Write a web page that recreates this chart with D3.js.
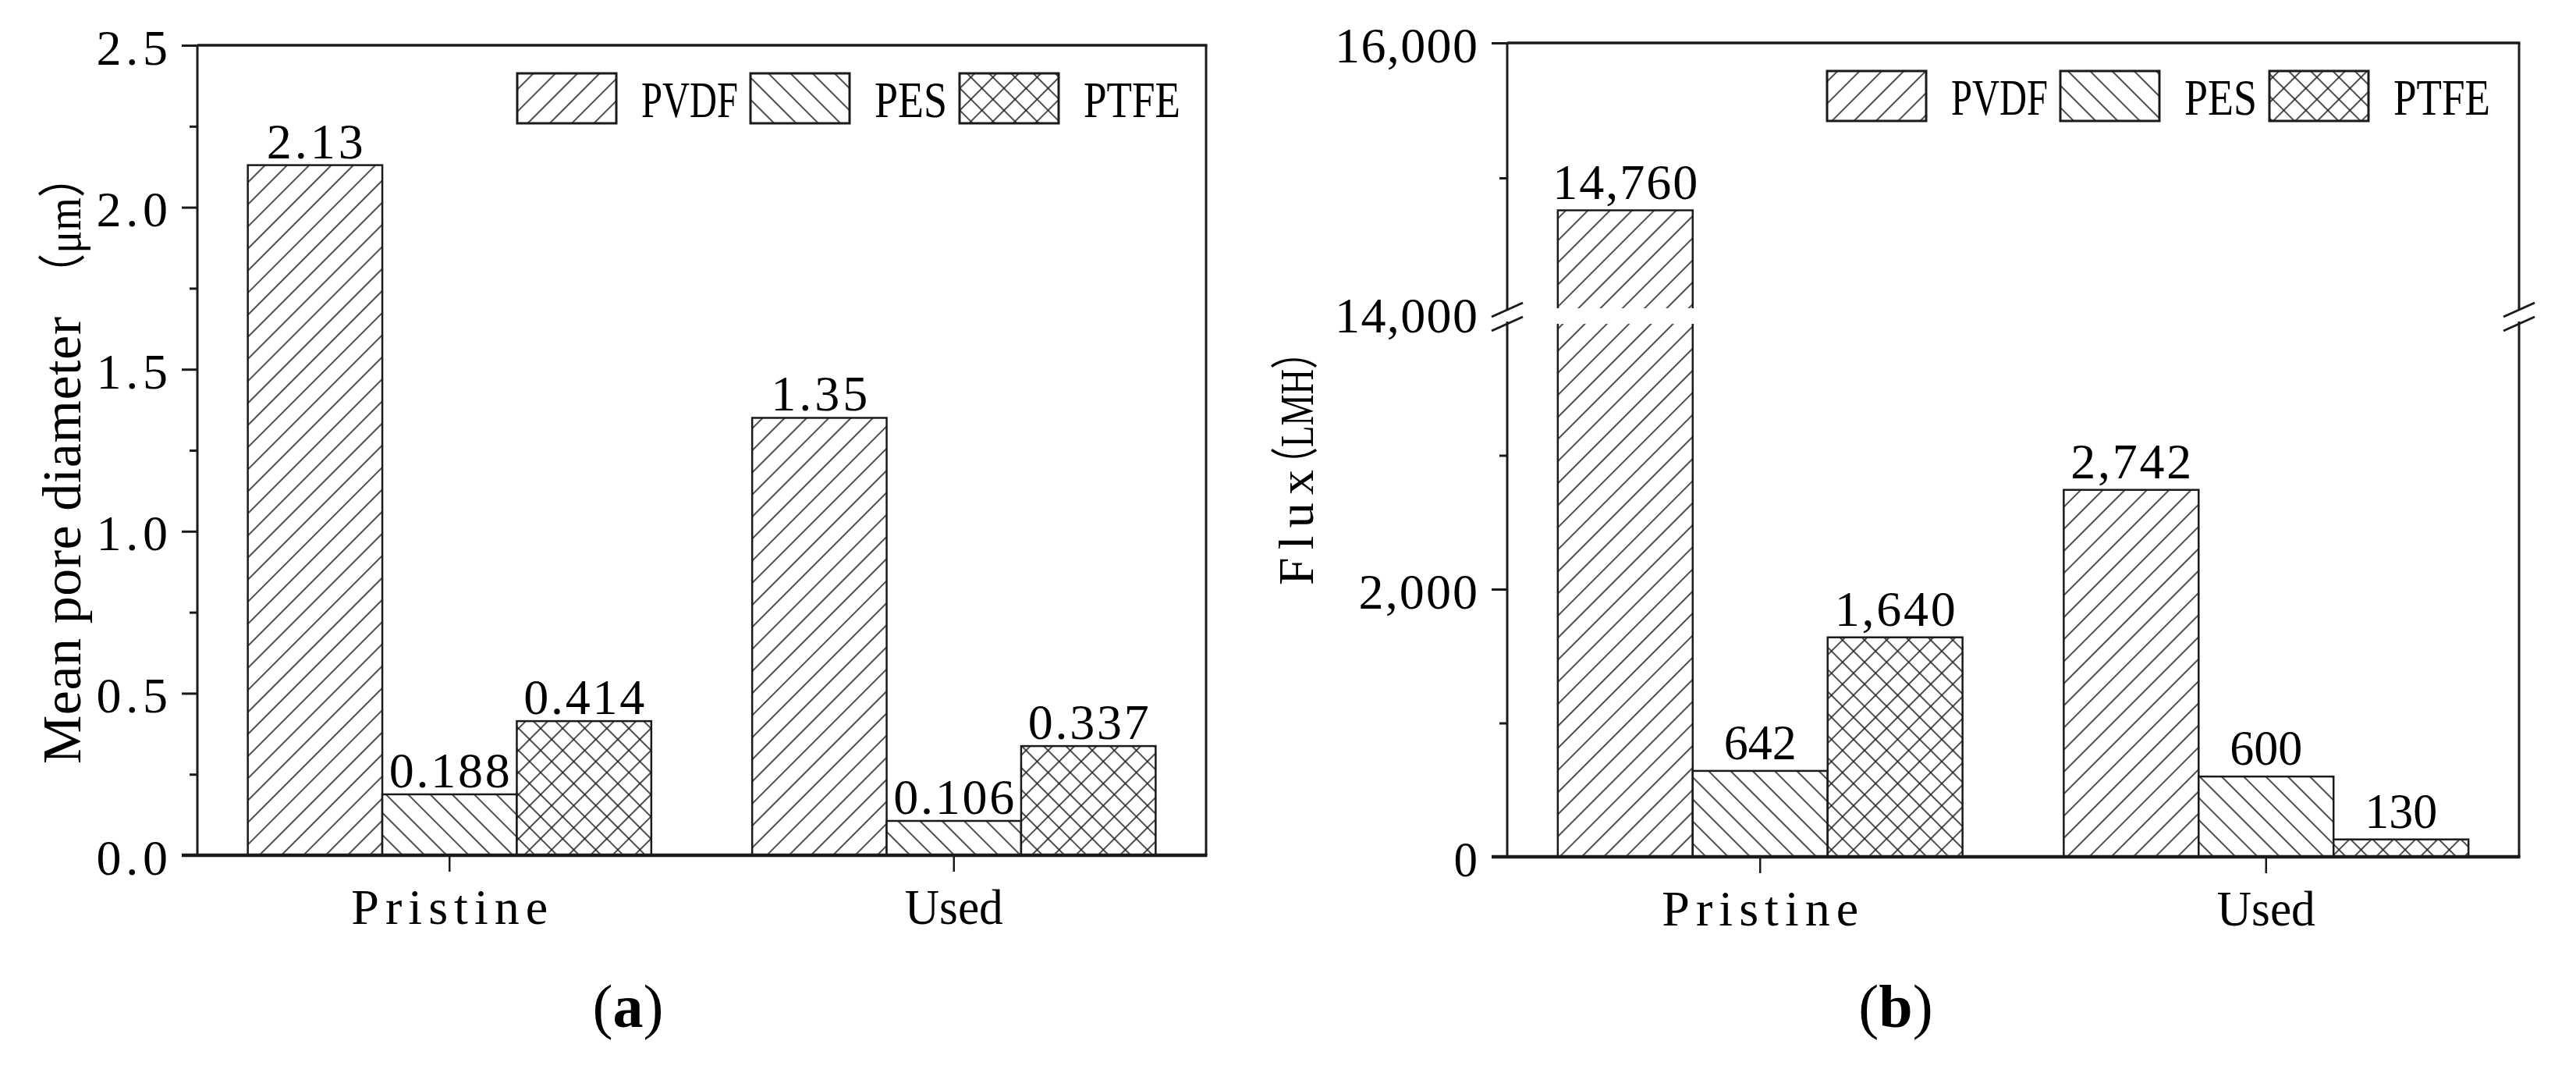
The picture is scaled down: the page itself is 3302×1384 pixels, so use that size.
<!DOCTYPE html>
<html><head><meta charset="utf-8">
<script src="https://cdn.jsdelivr.net/npm/d3@7"></script>
<style>body{margin:0;background:#fff}</style>
</head><body><svg id="c" width="3302" height="1384"></svg>
<script>
// ---------------- data ----------------
const categories = ["Pristine", "Used"];
const seriesNames = ["PVDF", "PES", "PTFE"];
const pvdfPore = [2.13, 1.35];
const pesPore = [0.188, 0.106];
const ptfePore = [0.414, 0.337];
const pvdfFlux = [14760, 2742];
const pesFlux = [642, 600];
const ptfeFlux = [1640, 130];
const poreMajorTicks = [0, 0.5, 1.0, 1.5, 2.0, 2.5];
const poreTickLabels = ["0.0", "0.5", "1.0", "1.5", "2.0", "2.5"];
const poreMinorTicks = [0.25, 0.75, 1.25, 1.75, 2.25];
const fluxLowMajorTicks = [0, 2000];
const fluxLowTickLabels = ["0", "2,000"];
const fluxLowMinorTicks = [1000, 3000];
const fluxHighMajorTicks = [14000, 16000];
const fluxHighTickLabels = ["14,000", "16,000"];
const fluxHighMinorTicks = [15000];
const poreTitleParts = ["Mean pore diameter", "（μm）"];
const fluxTitleParts = ["Flux", "（LMH）"];

// ---------------- setup ----------------
const svg = d3.select("#c");
const FONT = "'Liberation Serif','Noto Sans CJK SC',serif";
const INK = "#1a1a1a";
const defs = svg.append("defs");

function makePattern(id, angle, cross) {
  const p = defs.append("pattern").attr("id", id)
    .attr("patternUnits", "userSpaceOnUse")
    .attr("width", 20).attr("height", 20)
    .attr("patternTransform", `rotate(${angle})`);
  p.append("rect").attr("width", 20).attr("height", 20).attr("fill", "#fff");
  p.append("line").attr("x1", 10).attr("y1", -2).attr("x2", 10).attr("y2", 22)
    .attr("stroke", "#222").attr("stroke-width", 1.6);
  if (cross) p.append("line").attr("x1", -2).attr("y1", 10).attr("x2", 22).attr("y2", 10)
    .attr("stroke", "#222").attr("stroke-width", 1.6);
}
makePattern("pat-PVDF", 45, false);
makePattern("pat-PES", -45, false);
makePattern("pat-PTFE", 45, true);

function fitText(sel, charW, anchor) {
  sel.each(function () {
    const n = this.textContent.length;
    const target = n * charW;
    const nat = this.getComputedTextLength();
    const x0 = +(this.getAttribute("x") || 0);
    d3.select(this).attr("text-anchor", "start")
      .attr("textLength", target)
      .attr("lengthAdjust", nat > target ? "spacingAndGlyphs" : "spacing")
      .attr("x", anchor === "middle" ? x0 - target / 2 : anchor === "end" ? x0 - target : x0);
  });
}
function fitLen(sel, target) {
  sel.each(function () {
    const nat = this.getComputedTextLength();
    d3.select(this).attr("textLength", target)
      .attr("lengthAdjust", nat > target ? "spacingAndGlyphs" : "spacing");
  });
}

function panel(cfg) {
  const { left, right, top, bottom, values, yv, labelFmt, labelGap } = cfg;
  const g = svg.append("g");
  const x = d3.scaleBand().domain(categories).range([left, right]).paddingInner(0.2).paddingOuter(0.1);
  const xs = d3.scaleBand().domain(seriesNames).range([0, x.bandwidth()]);
  const rows = [];
  categories.forEach((c, i) => seriesNames.forEach(s => rows.push({ cat: c, s: s, v: values[s][i] })));

  // bars
  g.selectAll("rect.bar").data(rows).join("rect").attr("class", "bar")
    .attr("x", d => x(d.cat) + xs(d.s)).attr("width", xs.bandwidth())
    .attr("y", d => yv(d.v)).attr("height", d => yv(0) - yv(d.v))
    .attr("fill", d => `url(#pat-${d.s})`).attr("stroke", INK).attr("stroke-width", 2.5);

  if (cfg.afterBars) cfg.afterBars(g, rows, x, xs);

  // value labels
  g.selectAll("text.val").data(rows).join("text").attr("class", "val")
    .attr("x", d => x(d.cat) + xs(d.s) + xs.bandwidth() / 2)
    .attr("y", d => yv(d.v) - labelGap)
    .attr("font-family", FONT).attr("font-size", 64).attr("fill", "#000")
    .text(d => labelFmt(d.v))
    .call(fitText, 31, "middle");

  // y axes
  cfg.axes.forEach(a => {
    const ax = g.append("g").attr("transform", `translate(${left},0)`)
      .call(d3.axisLeft(a.scale).tickValues(a.ticks).tickSize(a.size).tickSizeOuter(0)
        .tickFormat(d => a.labels ? a.labels[a.ticks.indexOf(d)] : ""));
    ax.select(".domain").remove();
    ax.selectAll("line").attr("stroke", INK).attr("stroke-width", 3)
      .attr("display", d => (a.hideLine && a.hideLine.includes(d)) ? "none" : null);
    if (a.labels) {
      ax.selectAll("text").attr("font-family", FONT).attr("font-size", 64).attr("fill", "#000")
        .attr("dy", 0).attr("y", 24).attr("x", -38).call(fitText, 30.5, "end");
    } else ax.selectAll("text").remove();
  });

  // x axis
  const xa = g.append("g").attr("transform", `translate(0,${bottom})`)
    .call(d3.axisBottom(x).tickSize(21).tickSizeOuter(0));
  xa.select(".domain").remove();
  xa.selectAll("line").attr("stroke", INK).attr("stroke-width", 2.5);
  xa.selectAll("text").attr("font-family", FONT).attr("font-size", 64).attr("fill", "#000")
    .attr("dy", 0).attr("y", 88).attr("x", 0).call(fitText, 31.5, "middle");

  // frame
  const fr = g.append("g").attr("stroke", INK).attr("fill", "none");
  fr.append("line").attr("x1", left - 20).attr("x2", right + 1.5).attr("y1", bottom).attr("y2", bottom).attr("stroke-width", 4.5);
  fr.append("line").attr("x1", left).attr("x2", right + 1.5).attr("y1", top).attr("y2", top).attr("stroke-width", 3.5);
  const segs = cfg.breakY ? [[top, cfg.breakY[0]], [cfg.breakY[1], bottom]] : [[top, bottom]];
  segs.forEach(([a, b]) => {
    fr.append("line").attr("x1", left).attr("x2", left).attr("y1", a).attr("y2", b).attr("stroke-width", 3);
    fr.append("line").attr("x1", right).attr("x2", right).attr("y1", a).attr("y2", b).attr("stroke-width", 3);
  });
  if (cfg.breakY) {
    [left, right].forEach(xx => {
      [cfg.breakY[0], cfg.breakY[1] + 3].forEach(yc => {
        fr.append("line").attr("x1", xx - 20).attr("y1", yc + 9).attr("x2", xx + 20).attr("y2", yc - 9).attr("stroke-width", 3);
      });
    });
  }

  // legend
  let lx = left + 410;
  const ly = top + 36;
  seriesNames.forEach(s => {
    g.append("rect").attr("x", lx).attr("y", ly).attr("width", 127).attr("height", 64)
      .attr("fill", `url(#pat-${s})`).attr("stroke", INK).attr("stroke-width", 3);
    g.append("text").attr("x", lx + 159).attr("y", ly + 56)
      .attr("font-family", FONT).attr("font-size", 66).attr("fill", "#000").text(s)
      .call(fitText, 31, "start");
    lx += 159 + s.length * 31 + 16;
  });

  // y title (rotated; u measured upward from the bottom end of the title)
  const tg = g.append("g").attr("transform", `translate(${cfg.titleX},${cfg.titleBottom}) rotate(-90)`);
  cfg.titleParts.forEach((txt, i) => {
    const L = cfg.titleLayout[i];
    const t = tg.append("text").attr("x", L.u).attr("y", 0)
      .attr("font-family", FONT).attr("font-size", L.size).attr("fill", "#000").text(txt);
    if (L.len) t.call(fitLen, L.len);
  });

  // panel label
  const pl = g.append("text").attr("x", cfg.tagX).attr("y", 1316).attr("text-anchor", "middle")
    .attr("font-family", FONT).attr("font-size", 78).attr("fill", "#000");
  pl.append("tspan").text("(");
  pl.append("tspan").attr("font-weight", "bold").text(cfg.tag);
  pl.append("tspan").text(")");
}

// ---------------- panel (a) ----------------
const yPore = d3.scaleLinear().domain([0, 2.5]).range([1096, 58]);
panel({
  left: 253, right: 1546, top: 58, bottom: 1096,
  values: { PVDF: pvdfPore, PES: pesPore, PTFE: ptfePore },
  yv: v => yPore(v),
  labelFmt: v => String(v),
  labelGap: 9,
  axes: [
    { scale: yPore, ticks: poreMajorTicks, labels: poreTickLabels, size: 20 },
    { scale: yPore, ticks: poreMinorTicks, size: 10 }
  ],
  titleParts: poreTitleParts,
  titleLayout: [
    { u: 0, len: 573, size: 70 },
    { u: 600, len: 180, size: 62 }
  ],
  titleX: 103, titleBottom: 979,
  tag: "a", tagX: 805
});

// ---------------- panel (b) ----------------
const fluxLow = d3.scaleLinear().domain([0, 4000]).range([1098, 412]);
const fluxHigh = d3.scaleLinear().domain([14000, 16000]).range([401, 55]);
const yFlux = v => v > 4000 ? fluxHigh(v) : fluxLow(v);
panel({
  left: 1932, right: 3229, top: 55, bottom: 1098,
  values: { PVDF: pvdfFlux, PES: pesFlux, PTFE: ptfeFlux },
  yv: yFlux,
  labelFmt: d3.format(","),
  labelGap: 15,
  axes: [
    { scale: fluxLow, ticks: fluxLowMajorTicks, labels: fluxLowTickLabels, size: 20 },
    { scale: fluxLow, ticks: fluxLowMinorTicks, size: 10 },
    { scale: fluxHigh, ticks: fluxHighMajorTicks, labels: fluxHighTickLabels, size: 20, hideLine: [14000] },
    { scale: fluxHigh, ticks: fluxHighMinorTicks, size: 10 }
  ],
  breakY: [fluxHigh(14000) - 4, fluxLow(4000)],
  afterBars: (g, rows, x, xs) => {
    g.selectAll("rect.gap").data(rows.filter(d => d.v > 4000)).join("rect").attr("class", "gap")
      .attr("x", d => x(d.cat) + xs(d.s) - 4).attr("width", xs.bandwidth() + 8)
      .attr("y", fluxHigh(14000) - 6).attr("height", fluxLow(4000) + 3 - (fluxHigh(14000) - 6))
      .attr("fill", "#fff");
  },
  titleParts: fluxTitleParts,
  titleLayout: [
    { u: 0, len: 148, size: 64 },
    { u: 132, len: 190, size: 62 }
  ],
  titleX: 1683, titleBottom: 750,
  tag: "b", tagX: 2430
});
</script>
</body></html>
